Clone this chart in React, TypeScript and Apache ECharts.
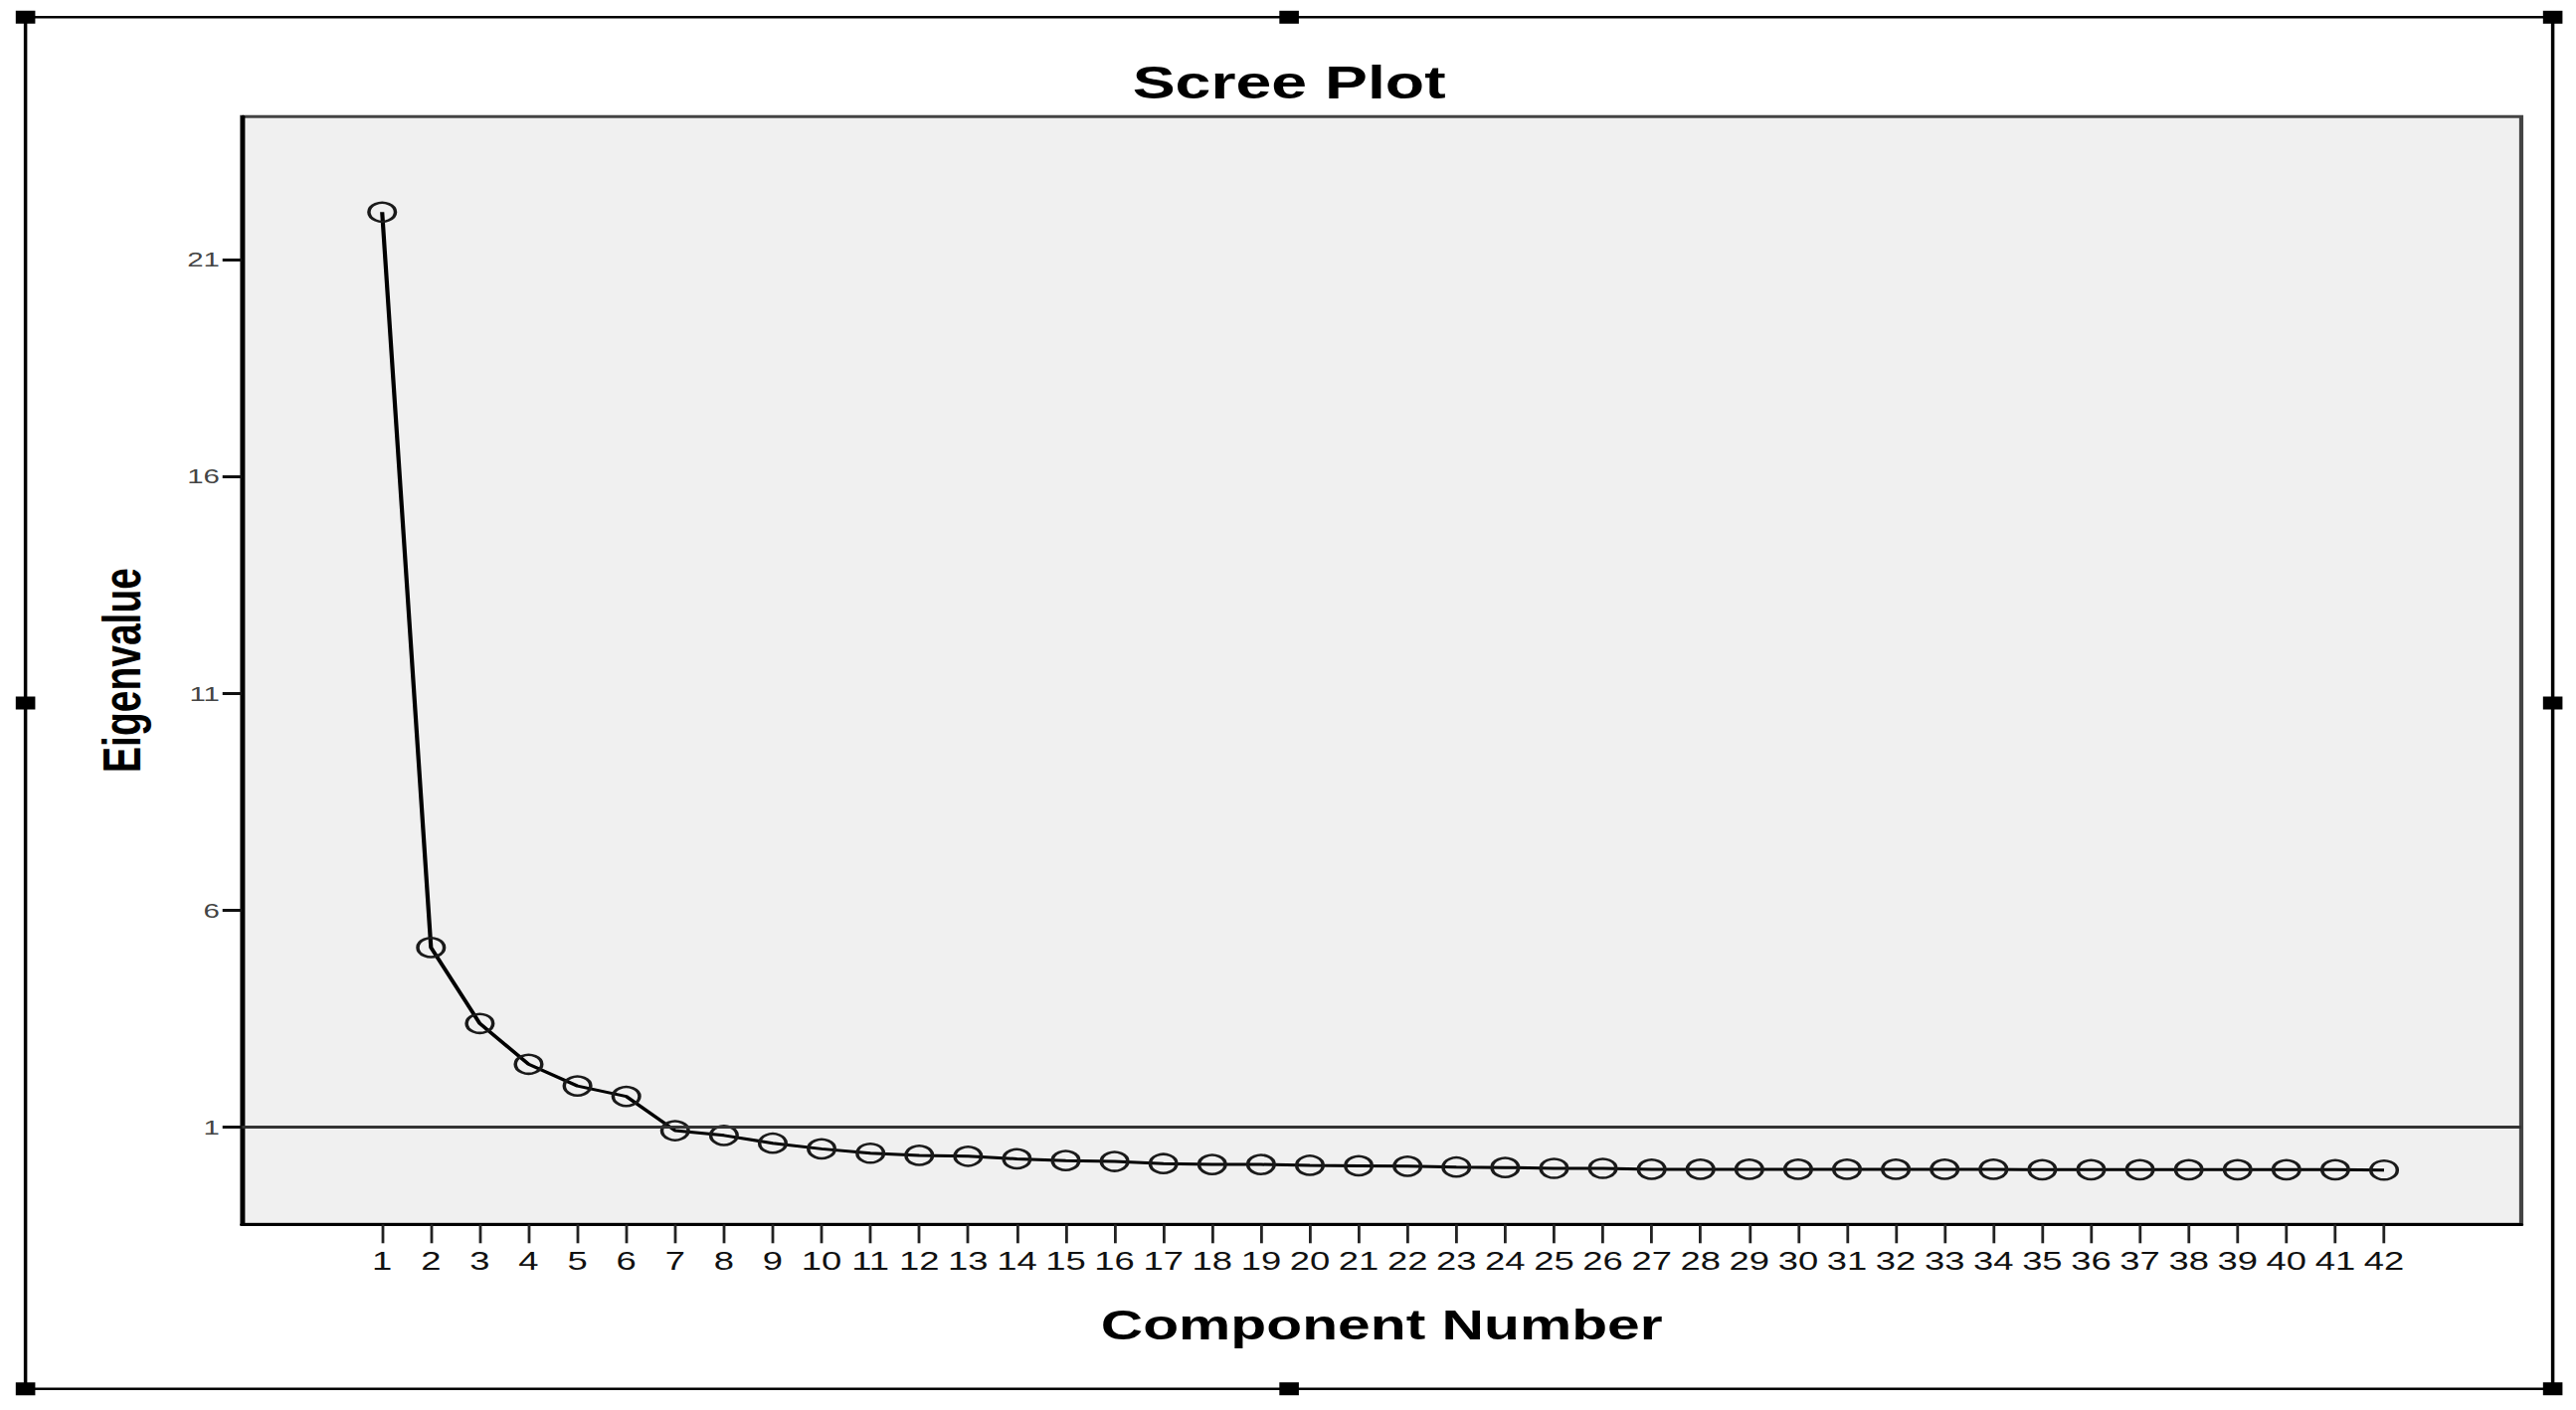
import React, { useEffect, useRef } from "react";
import * as echarts from "echarts";

// ---- data ----
const components = [
  1, 2, 3, 4, 5, 6, 7, 8, 9, 10, 11, 12, 13, 14, 15, 16, 17, 18, 19, 20, 21,
  22, 23, 24, 25, 26, 27, 28, 29, 30, 31, 32, 33, 34, 35, 36, 37, 38, 39, 40,
  41, 42,
];
const eigenvalues = [
  22.09, 5.14, 3.39, 2.45, 1.95, 1.71, 0.92, 0.81, 0.63, 0.5,
  0.4, 0.35, 0.33, 0.27, 0.23, 0.21, 0.16, 0.14, 0.14, 0.12,
  0.11, 0.1, 0.08, 0.07, 0.05, 0.05, 0.03, 0.03, 0.03, 0.03,
  0.03, 0.03, 0.03, 0.03, 0.02, 0.02, 0.02, 0.02, 0.02, 0.02,
  0.02, 0.01,
];
const yTicks = [1, 6, 11, 16, 21];
const referenceEigenvalue = 1;
const titleText = "Scree Plot";
const xAxisTitle = "Component Number";
const yAxisTitle = "Eigenvalue";

// ---- layout (unscaled units; the whole drawing is stretched horizontally) ----
const STRETCH = 1.4;
const W = 2590 / STRETCH;
const H = 1418;
const FONT = '"Liberation Sans", Arial, Helvetica, sans-serif';

const frame = { x0: 18.3, y0: 17.3, x1: 1833.3, y1: 1396.7 };
const handleXs = [frame.x0, (frame.x0 + frame.x1) / 2, frame.x1];
const handleYs = [frame.y0, 707, frame.y1];

export default function App() {
  const ref = useRef<HTMLDivElement>(null);

  useEffect(() => {
    if (!ref.current) return;
    const chart = echarts.init(ref.current, undefined, { renderer: "svg" });

    const handles: any[] = [];
    handleXs.forEach((hx, i) =>
      handleYs.forEach((hy, j) => {
        if (i === 1 && j === 1) return;
        handles.push({
          type: "rect",
          silent: true,
          shape: { x: hx - 7, y: hy - 6.5, width: 14, height: 13 },
          style: { fill: "#000" },
          z: 10,
        });
      })
    );

    const option: any = {
      animation: false,
      backgroundColor: "#ffffff",
      grid: {
        left: 173.8,
        right: W - 1810.7,
        top: 117.3,
        bottom: H - 1231.3,
        show: true,
        backgroundColor: "#f0f0f0",
        borderColor: "#444444",
        borderWidth: 3,
      },
      xAxis: {
        type: "value",
        min: -1.87,
        max: 44.81,
        axisLine: { show: true, onZero: false, lineStyle: { color: "#000", width: 3 } },
        axisTick: {
          show: true,
          customValues: components,
          length: 19,
          lineStyle: { color: "#222", width: 2 },
        },
        axisLabel: {
          customValues: components,
          margin: 24,
          fontSize: 26,
          fontFamily: FONT,
          color: "#111",
        },
        splitLine: { show: false },
      },
      yAxis: {
        type: "value",
        min: -1.24,
        max: 24.29,
        axisLine: { show: true, onZero: false, lineStyle: { color: "#000", width: 3 } },
        axisTick: {
          show: true,
          customValues: yTicks,
          length: 14,
          lineStyle: { color: "#111", width: 3 },
        },
        axisLabel: {
          customValues: yTicks,
          margin: 16,
          fontSize: 21,
          fontFamily: FONT,
          color: "#444",
        },
        splitLine: { show: false },
      },
      series: [
        {
          type: "line",
          data: components.map((c, i) => [c, eigenvalues[i]]),
          symbol: "circle",
          symbolSize: 19,
          itemStyle: { color: "rgba(0,0,0,0)", borderColor: "#1a1a1a", borderWidth: 2.5 },
          lineStyle: { color: "#000", width: 3 },
          markLine: {
            silent: true,
            symbol: "none",
            label: { show: false },
            lineStyle: { color: "#333", width: 3, type: "solid" },
            data: [{ yAxis: referenceEigenvalue }],
          },
        },
      ],
      graphic: [
        {
          type: "rect",
          silent: true,
          shape: {
            x: frame.x0,
            y: frame.y0,
            width: frame.x1 - frame.x0,
            height: frame.y1 - frame.y0,
          },
          style: { fill: "none", stroke: "#000", lineWidth: 2.5 },
          z: 9,
        },
        ...handles,
        {
          type: "text",
          silent: true,
          x: (frame.x0 + frame.x1) / 2,
          y: 82.5,
          style: {
            text: titleText,
            fontSize: 46,
            fontWeight: "bold",
            fontFamily: FONT,
            fill: "#000",
            align: "center",
            verticalAlign: "middle",
          },
        },
        {
          type: "text",
          silent: true,
          x: 992.3,
          y: 1333,
          style: {
            text: xAxisTitle,
            fontSize: 42,
            fontWeight: "bold",
            fontFamily: FONT,
            fill: "#000",
            align: "center",
            verticalAlign: "middle",
          },
        },
        {
          type: "text",
          silent: true,
          x: 87,
          y: 674,
          rotation: Math.PI / 2,
          style: {
            text: yAxisTitle,
            fontSize: 39,
            fontWeight: "bold",
            fontFamily: FONT,
            fill: "#000",
            align: "center",
            verticalAlign: "middle",
          },
        },
      ],
    };

    chart.setOption(option);
    return () => chart.dispose();
  }, []);

  return (
    <div
      ref={ref}
      style={{
        position: "fixed",
        left: 0,
        top: 0,
        width: W,
        height: H,
        transform: `scaleX(${STRETCH})`,
        transformOrigin: "0 0",
        background: "#fff",
      }}
    />
  );
}
